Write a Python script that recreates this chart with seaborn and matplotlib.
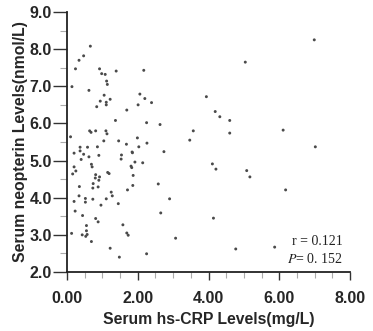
import matplotlib
matplotlib.use("Agg")
import matplotlib.pyplot as plt
import seaborn as sns
import pandas as pd
from matplotlib.ticker import MultipleLocator, FormatStrFormatter

# Serum hs-CRP (mg/L)
crp = [6.99, 5.04, 3.94, 4.19, 4.32, 4.60, 4.60, 6.11, 7.02, 4.11, 4.21, 5.08, 5.17, 6.18,
       4.14, 4.77, 5.87, 3.57, 3.47, 2.90, 2.65, 3.07, 2.25, 2.58, 2.17, 2.06, 2.20, 2.39,
       2.01, 2.25, 2.63, 1.99, 2.26, 2.03, 2.74, 2.14, 1.87,
       0.66, 0.47, 0.34, 0.24, 0.92, 0.98, 1.08, 1.39, 1.12, 1.14, 0.14, 0.62, 1.05, 1.22,
       0.94, 1.11, 1.11, 0.84, 1.69, 1.37, 0.10, 0.64, 0.68, 0.81, 1.10, 1.13, 1.04, 1.46,
       1.68, 0.37, 0.58, 0.86, 1.84, 0.20, 0.37, 0.47, 0.62, 0.90, 1.54, 1.53, 0.40, 0.69,
       0.71, 0.20, 0.25, 0.16, 1.81, 1.83, 1.92, 1.15, 1.19, 0.81, 0.80, 0.92, 0.90, 0.74,
       0.73, 0.88, 0.35, 1.25, 1.71, 1.86, 0.34, 0.52, 0.52, 0.20, 0.73, 0.96, 1.11, 1.28,
       1.45, 0.23, 0.44, 0.81, 0.88, 0.55, 0.55, 0.13, 0.43, 0.57, 0.53, 0.69, 1.58, 1.69,
       1.73, 1.22, 1.48, 1.85]
# Serum neopterin (nmol/L)
neopterin = [8.25, 7.65, 6.72, 6.32, 6.18, 6.08, 5.74, 5.82, 5.37, 4.91, 4.77, 4.73, 4.56, 4.21,
             3.45, 2.62, 2.67, 5.80, 5.55, 3.97, 3.59, 2.91, 2.49, 4.37, 7.43, 6.79, 6.67, 6.56,
             6.50, 6.02, 5.97, 5.61, 5.47, 5.37, 5.24, 4.94, 4.60,
             8.08, 7.82, 7.70, 7.47, 7.47, 7.34, 7.32, 7.41, 7.14, 7.05, 6.99, 6.89, 6.76, 6.65,
             6.60, 6.57, 6.50, 6.45, 6.36, 6.08, 5.64, 5.80, 5.76, 5.80, 5.80, 5.72, 5.53, 5.53,
             5.44, 5.36, 5.36, 5.37, 5.23, 5.20, 5.26, 5.17, 5.10, 5.14, 5.15, 5.04, 5.03, 4.90,
             4.83, 4.83, 4.72, 4.64, 4.85, 4.81, 4.96, 4.68, 4.65, 4.62, 4.53, 4.56, 4.47, 4.38,
             4.26, 4.29, 4.30, 4.15, 4.21, 4.33, 4.05, 3.98, 3.88, 3.90, 3.96, 3.80, 3.97, 4.05,
             3.84, 3.64, 3.52, 3.44, 3.35, 3.25, 3.11, 3.04, 3.00, 3.01, 2.96, 2.82, 3.27, 3.05,
             2.99, 2.64, 2.40, 5.21]

xlabel = "Serum hs-CRP Levels(mg/L)"
ylabel = "Serum neopterin Levels(nmol/L)"
r_text = "r = 0.121"
p_text = r"$\mathit{P}$= 0. 152"

df = pd.DataFrame({"crp": crp, "neo": neopterin})

sns.set_style("ticks")
plt.rcParams["font.family"] = ["Liberation Sans", "DejaVu Sans"]
plt.rcParams["mathtext.fontset"] = "stix"

fig = plt.figure(figsize=(3.73, 3.31), dpi=100)
ax = fig.add_axes([67/373, 1-272/331, 283/373, 260/331])

sns.scatterplot(data=df, x="crp", y="neo", ax=ax, s=4.5, color="#4a4a4a",
                edgecolor="none", linewidth=0, legend=False)

ax.set_xlim(0, 8)
ax.set_ylim(2, 9)
ax.xaxis.set_major_locator(MultipleLocator(2))
ax.xaxis.set_minor_locator(MultipleLocator(0.5))
ax.yaxis.set_major_locator(MultipleLocator(1))
ax.yaxis.set_minor_locator(MultipleLocator(0.5))
ax.xaxis.set_major_formatter(FormatStrFormatter("%.2f"))
ax.yaxis.set_major_formatter(FormatStrFormatter("%.1f"))

for s in ["top", "right"]:
    ax.spines[s].set_visible(False)
for s in ["left", "bottom"]:
    ax.spines[s].set_linewidth(1.3)
    ax.spines[s].set_color("#222222")

ax.tick_params(axis="y", which="major", direction="out", length=10, width=1.0,
               color="#333333", pad=1, labelsize=11.5)
ax.tick_params(axis="y", which="minor", direction="out", length=5, width=0.8,
               color="#aaaaaa")
ax.tick_params(axis="x", which="major", direction="out", length=6, width=1.0,
               color="#333333", pad=8, labelsize=11.5)
ax.tick_params(axis="x", which="minor", direction="out", length=4, width=0.8,
               color="#aaaaaa")
for lab in ax.get_xticklabels() + ax.get_yticklabels():
    lab.set_fontweight("bold")

ax.set_xlabel(xlabel, fontsize=11.3, fontweight="bold", labelpad=4)
ax.set_ylabel(ylabel, fontsize=11.3, fontweight="bold", labelpad=1)

ax.text(0.975, 0.119, r_text, transform=ax.transAxes, ha="right", va="center",
        fontsize=10, family="Liberation Serif", color="#222222")
ax.text(0.975, 0.05, p_text, transform=ax.transAxes, ha="right", va="center",
        fontsize=10, family="Liberation Serif", color="#222222")

fig.savefig("out.png", dpi=100)
